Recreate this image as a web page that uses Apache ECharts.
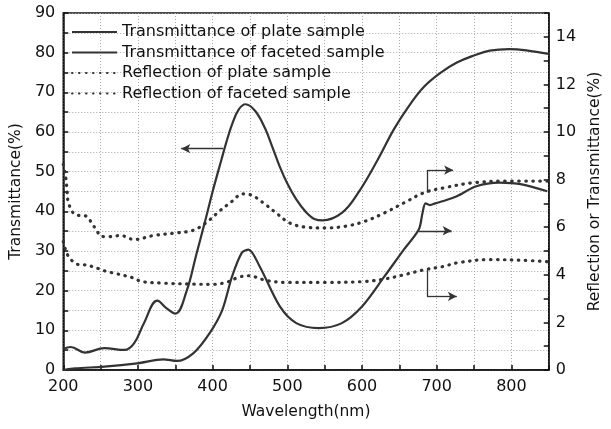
<!DOCTYPE html>
<html><head><meta charset="utf-8">
<script src="https://cdn.jsdelivr.net/npm/echarts@6/dist/echarts.min.js"></script>
<style>html,body{margin:0;padding:0;background:#fff}#c{width:611px;height:429px}</style>
</head><body><div id="c"></div>
<script>
// Transmittance of plate sample (left axis, %)
const wlA = [200,210,229,255,282,295,308,326,338,350,365,378,391,400,411,418,426,435,444,457,470,480,490,500,512,525,537,547,573,595,621,643,663,683,705,727,750,771,797,820,850];
const tPlate = [5.3,5.8,4.4,5.5,5.05,6.8,11.8,17.5,15.6,14.2,19.8,29,38.3,45,52.5,57.2,61.9,65.7,67,65.3,61,56.2,51.2,47,43,39.8,38,37.7,39.6,44.7,53,60.8,66.6,71.4,74.9,77.5,79.3,80.5,80.9,80.6,79.7];
// Transmittance of faceted sample (right axis, %)
const wlB = [200,216,255,299,334,352,374,396,413,426,439,448,463,490,512,542,573,600,630,656,676,681,685,691,698,709,727,753,784,814,848];
const tFacet = [0,0.07,0.14,0.28,0.45,0.38,0.7,1.55,2.53,3.93,4.92,5.06,4.35,2.67,1.97,1.76,1.97,2.67,3.93,5.06,5.9,6.6,7.0,6.93,7.0,7.1,7.3,7.72,7.87,7.8,7.51];
// Reflection of plate sample (right axis, %)
const wlC = [200,203,205,207,216,231,238,244,251,260,277,295,321,352,374,391,409,426,440,450,468,485,503,525,551,578,604,630,656,683,709,749,797,850];
const rPlate = [8.64,8.15,7.6,7.02,6.53,6.46,6.18,5.9,5.62,5.6,5.65,5.48,5.65,5.76,5.87,6.18,6.67,7.09,7.4,7.37,7.02,6.6,6.18,6.0,5.97,6.04,6.25,6.6,7.02,7.45,7.65,7.87,7.94,7.94];
// Reflection of faceted sample (right axis, %)
const wlD = [200,203,207,213,222,231,240,249,258,268,295,304,334,374,400,418,435,448,472,499,551,604,630,656,683,709,727,771,815,850];
const rFacet = [5.4,5.06,4.77,4.56,4.42,4.42,4.33,4.24,4.14,4.07,3.86,3.72,3.65,3.61,3.6,3.68,3.9,3.96,3.76,3.68,3.68,3.72,3.82,4.0,4.21,4.35,4.5,4.64,4.61,4.55];

const seriesNames = ['Transmittance of plate sample','Transmittance of faceted sample','Reflection of plate sample','Reflection of faceted sample'];
const xTitle = 'Wavelength(nm)';
const yLeftTitle = 'Transmittance(%)';
const yRightTitle = 'Reflection or Transmittance(%)';

// annotation arrows in data units
const arrowLeft = [[414,55.8],[358,55.8]];
const bracketUpV = [[687,7.45],[687,8.4]];
const bracketUpH = [[687,8.4],[722,8.4]];
const arrowMid = [[676,5.85],[720,5.85]];
const bracketLowV = [[687,4.2],[687,3.09]];
const bracketLowH = [[687,3.09],[727,3.09]];

const zip = (xs, ys) => xs.map((x,i)=>[x, ys[i]]);
const FONT = 'DejaVu Sans';
const ink = '#333';

function seg(p, arrow){
  return [{coord:p[0], symbol:'none'},{coord:p[1], symbol: arrow ? 'arrow':'none', symbolSize:[7,9]}];
}
const mlBase = {silent:true, animation:false, symbol:['none','none'], label:{show:false},
  lineStyle:{color:ink, width:1.3, type:'solid'}, emphasis:{disabled:true}};

const solid = {color:ink, width:2.2, type:'solid'};
const dotted = {color:ink, width:3.2, type:[0.5,6.5], cap:'round'};

const chart = echarts.init(document.getElementById('c'), null, {renderer:'canvas'});
chart.setOption({
  animation:false,
  backgroundColor:'#fff',
  textStyle:{fontFamily:FONT},
  grid:{left:63, right:53, top:13, bottom:59, show:true, borderColor:'#111', borderWidth:1.5, backgroundColor:'transparent'},
  legend:{
    orient:'vertical', left:66, top:18, itemWidth:45, itemHeight:14, itemGap:2.5,
    itemStyle:{opacity:0},
    textStyle:{fontFamily:FONT, fontSize:16, color:'#111', lineHeight:18},
    data: seriesNames, selectedMode:false
  },
  xAxis:{
    type:'value', min:200, max:850, interval:50,
    name:xTitle, nameLocation:'middle', nameGap:34,
    nameTextStyle:{fontFamily:FONT, fontSize:15.5, color:'#111'},
    axisLine:{lineStyle:{color:'#111', width:1.5}},
    axisTick:{inside:true, length:5, lineStyle:{color:'#111', width:1.5}},
    axisLabel:{fontFamily:FONT, fontSize:16, color:'#111', margin:9, formatter:v => (v%100===0 ? String(v) : '')},
    splitLine:{show:true, lineStyle:{color:'#aaa', width:1, type:[1,2]}}
  },
  yAxis:[{
    type:'value', min:0, max:90, interval:5, position:'left',
    name:yLeftTitle, nameLocation:'middle', nameGap:37, nameRotate:90,
    nameTextStyle:{fontFamily:FONT, fontSize:15.5, color:'#111'},
    axisLine:{show:true, lineStyle:{color:'#111', width:1.5}},
    axisTick:{inside:true, length:5, lineStyle:{color:'#111', width:1.5}},
    axisLabel:{fontFamily:FONT, fontSize:16, color:'#111', margin:8, formatter:v => (v%10===0 ? String(v) : '')},
    splitLine:{show:true, lineStyle:{color:'#aaa', width:1, type:[1,2]}}
  },{
    type:'value', min:0, max:15, interval:1, position:'right',
    name:yRightTitle, nameLocation:'middle', nameGap:30, nameRotate:90,
    nameTextStyle:{fontFamily:FONT, fontSize:15.5, color:'#111'},
    axisLine:{show:true, lineStyle:{color:'#111', width:1.5}},
    axisTick:{inside:true, length:5, lineStyle:{color:'#111', width:1.5}},
    axisLabel:{fontFamily:FONT, fontSize:16, color:'#111', margin:7, formatter:v => (v%2===0 && v<15 ? String(v) : '')},
    splitLine:{show:false}
  }],
  series:[
    {name:seriesNames[0], type:'line', yAxisIndex:0, data:zip(wlA,tPlate), smooth:0.4, showSymbol:false, symbol:'none', lineStyle:solid, itemStyle:{color:ink},
     markLine:Object.assign({}, mlBase, {data:[seg(arrowLeft,true)]})},
    {name:seriesNames[1], type:'line', yAxisIndex:1, data:zip(wlB,tFacet), smooth:0.3, showSymbol:false, symbol:'none', lineStyle:solid, itemStyle:{color:ink},
     markLine:Object.assign({}, mlBase, {data:[seg(arrowMid,true)]})},
    {name:seriesNames[2], type:'line', yAxisIndex:1, data:zip(wlC,rPlate), smooth:0.35, showSymbol:false, symbol:'none', lineStyle:dotted, itemStyle:{color:ink},
     markLine:Object.assign({}, mlBase, {data:[seg(bracketUpV,false), seg(bracketUpH,true)]})},
    {name:seriesNames[3], type:'line', yAxisIndex:1, data:zip(wlD,rFacet), smooth:0.35, showSymbol:false, symbol:'none', lineStyle:dotted, itemStyle:{color:ink},
     markLine:Object.assign({}, mlBase, {data:[seg(bracketLowV,false), seg(bracketLowH,true)]})}
  ]
});
</script></body></html>
